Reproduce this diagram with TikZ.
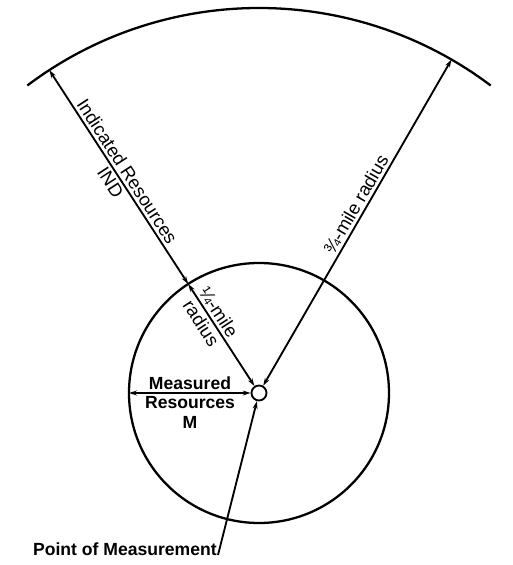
\documentclass[tikz,border=0pt]{standalone}
\usepackage{fontspec}
\setmainfont{Liberation Sans}
\usetikzlibrary{arrows.meta,calc}
\begin{document}
\begin{tikzpicture}[x=0.02cm,y=0.02cm,
  thinline/.style={line width=1.05pt},
  thickline/.style={line width=1.3pt},
  dim/.style={thinline,{Stealth[length=4.5pt,width=2.8pt]}-{Stealth[length=4.5pt,width=2.8pt]}},
  onearrow/.style={thinline,-{Stealth[length=4.5pt,width=2.8pt]}},
  lbl/.style={font=\fontsize{10.5}{12}\selectfont, inner sep=1.5pt},
  blbl/.style={font=\fontsize{10}{11.5}\selectfont\bfseries, inner sep=1.5pt, align=center}
]
\useasboundingbox[fill=white] (0,0) rectangle (512,565);
\coordinate (O) at (259,172);
\coordinate (A) at ($(O)+(123:385)$);
\coordinate (Ain) at ($(O)+(123:130)$);
\coordinate (B) at ($(O)+(60:385)$);
\coordinate (Cl) at ($(O)+(180:130)$);
\coordinate (Astart) at ($(O)+(53:385)$);
\coordinate (P) at (218,10);
% circles
\draw[thickline] (O) circle[radius=130];
\draw[thickline] (Astart) arc[start angle=53,end angle=127,radius=385];
\node[circle, draw, thinline, fill=white, minimum size=15*0.02cm, inner sep=0pt] (pt) at (O) {};
% radii
\draw[dim] (A) -- (Ain)
  node[lbl, midway, sloped, above] {Indicated Resources}
  node[lbl, midway, sloped, below] {IND};
\draw[dim] (Ain) -- (pt)
  node[lbl, pos=0.33, sloped, above] {¼-mile}
  node[lbl, pos=0.33, sloped, below] {radius};
\draw[dim] (pt) -- (B)
  node[lbl, pos=0.54, sloped, above] {¾-mile radius};
% measured
\draw[dim] (Cl) -- (pt);
\node[blbl, anchor=south] (meas) at (190,172) {Measured};
\node[blbl, anchor=north] (res) at (190,172) {Resources\\M};
% point of measurement
\draw[onearrow] (P) -- (pt);
\node[blbl, anchor=base east, inner sep=0pt] (pm) at ($(P)+(-1,0)$) {Point of Measurement};
\end{tikzpicture}
\end{document}
